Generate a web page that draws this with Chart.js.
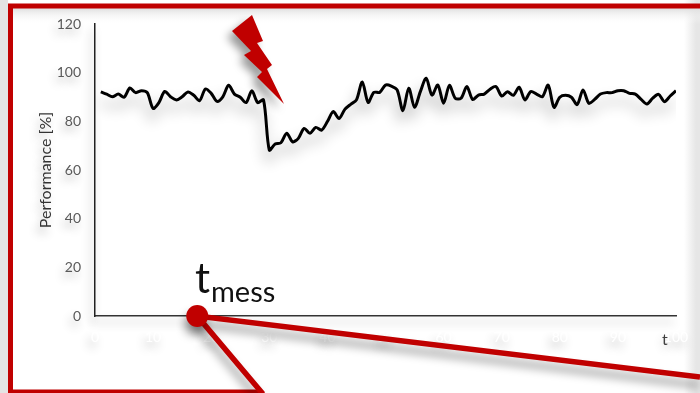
<!DOCTYPE html>
<html>

<head>
    <meta charset="UTF-8">
    <title>Performance</title>
    <script src="https://cdn.jsdelivr.net/npm/chart.js"></script>
    <style>
        html, body { margin: 0; padding: 0; background: #fff; overflow: hidden; }
        #wrap { position: relative; width: 700px; height: 393px; }
    </style>
</head>

<body>
    <div id="wrap"><canvas id="chartCanvas" width="700" height="393"></canvas></div>

    <script>
        var tempo = [1,2,3,4,5,6,7,8,9,10,11,12,13,14,15,16,17,18,19,20,21,22,23,24,25,26,27,28,29,30,
            31,32,33,34,35,36,37,38,39,40,41,42,43,44,45,46,47,48,49,50,51,52,53,54,55,56,57,58,59,60,
            61,62,63,64,65,66,67,68,69,70,71,72,73,74,75,76,77,78,79,80,81,82,83,84,85,86,87,88,89,90,
            91,92,93,94,95,96,97,98,99,100];
        var performance_ = [92.1,91.2,90.1,91.2,89.9,93.7,91.8,92.6,91.8,85.3,87.7,92.3,90.1,88.8,90.1,92.1,90.7,88.5,93.3,91.5,
            88.2,90.1,94.8,91.2,89.9,87.7,92.6,87.7,88.8,68.2,70.7,71.2,75.1,71.6,73,77.1,75.1,77.5,76.4,79.9,
            84,81.2,84.9,87,88.8,96.2,87.8,91.9,91.9,94.9,94.5,92.9,84.4,93.6,85.8,92.2,97.7,90.8,94.9,87.4,
            94.8,89.5,89.5,94.3,89,90.8,91.2,93.2,94.3,90.4,92.2,90.7,94,88.8,92.2,91.2,90.1,94.9,85.8,89.9,
            90.7,89.9,86.9,92.9,87.4,89,91.2,91.8,91.8,92.6,92.6,91.5,91.2,89,87.1,89.5,91.1,88.1,90.4,92.6];
        var tMess = [17.6];
        var tMessValue = [0];

        var vermelho = '#c00000';

        // sombra cinza igual a do slide original
        function sombra(ctx, blur, dx, dy, alpha) {
            ctx.shadowColor = 'rgba(0,0,0,' + alpha + ')';
            ctx.shadowBlur = blur;
            ctx.shadowOffsetX = dx;
            ctx.shadowOffsetY = dy;
        }

        var fundo = {
            id: 'fundo',
            beforeDraw: function (chart) {
                var c = chart.ctx;
                c.save();
                // faixas cinzas fora da moldura
                c.fillStyle = '#e4e4e4';
                c.fillRect(0, 0, 8, 393);
                var d = c.createLinearGradient(684, 0, 696, 0);
                d.addColorStop(0, '#ffffff');
                d.addColorStop(1, '#e6e6e6');
                c.fillStyle = d;
                c.fillRect(684, 0, 16, 393);
                var g = c.createLinearGradient(0, 8, 0, 24);
                g.addColorStop(0, '#dedede');
                g.addColorStop(1, 'rgba(255,255,255,0)');
                c.fillStyle = g;
                c.fillRect(13, 8, 687, 16);
                c.restore();
                // eixos e rotulos tambem tem sombra
                c.save();
                sombra(c, 10, -3, 6, 0.3);
            },
            beforeDatasetsDraw: function (chart) {
                chart.ctx.restore();
            }
        };

        var sombraLinha = {
            id: 'sombraLinha',
            beforeDatasetDraw: function (chart, args) {
                if (args.index === 0) {
                    chart.ctx.save();
                    sombra(chart.ctx, 14, -2, 10, 0.32);
                }
            },
            afterDatasetDraw: function (chart, args) {
                if (args.index === 0) {
                    chart.ctx.restore();
                }
            }
        };

        var extras = {
            id: 'extras',
            afterDraw: function (chart) {
                var c = chart.ctx;
                var px = chart.scales.x.getPixelForValue(tMess[0]);
                var py = chart.scales.y.getPixelForValue(tMessValue[0]);

                c.save();

                // moldura vermelha
                c.strokeStyle = vermelho;
                c.lineWidth = 5;
                c.beginPath();
                c.moveTo(720, 6);
                c.lineTo(10.5, 6);
                c.lineTo(10.5, 392);
                c.lineTo(262, 392);
                c.stroke();

                // raio
                sombra(c, 9, -5, 6, 0.4);
                c.fillStyle = vermelho;
                c.beginPath();
                c.moveTo(252, 15);
                c.lineTo(263, 41);
                c.lineTo(257, 43);
                c.lineTo(272, 65);
                c.lineTo(267, 69);
                c.lineTo(284, 104);
                c.lineTo(257, 77);
                c.lineTo(262, 72);
                c.lineTo(244, 55);
                c.lineTo(251, 51);
                c.lineTo(232, 31);
                c.closePath();
                c.fill();

                // linhas de zoom
                sombra(c, 10, -2, 8, 0.4);
                c.strokeStyle = vermelho;
                c.lineWidth = 5.5;
                c.beginPath();
                c.moveTo(700, 377);
                c.lineTo(px, py);
                c.lineTo(263, 394);
                c.stroke();
                c.fillStyle = vermelho;
                c.beginPath();
                c.arc(px, py, 11, 0, Math.PI * 2);
                c.fill();

                c.shadowColor = 'transparent';
                c.fillStyle = '#111';
                c.textAlign = 'left';
                c.textBaseline = 'alphabetic';
                c.font = '42px Lato';
                c.fillText('t', 195, 293);
                c.font = '29px Lato';
                c.fillText('mess', 211, 302);
                c.fillStyle = '#404040';
                c.font = '16px Lato';
                c.fillText('t', 662, 345);

                c.restore();
            }
        };

        new Chart(document.getElementById('chartCanvas'), {
            type: 'line',
            data: {
                labels: tempo,
                datasets: [{
                    data: tempo.map(function (t, i) { return { x: t, y: performance_[i] }; }),
                    borderColor: '#000',
                    borderWidth: 3,
                    pointRadius: 0,
                    tension: 0.3,
                    fill: false
                }]
            },
            options: {
                responsive: false,
                animation: false,
                layout: { padding: { left: 36, top: 24, right: 24, bottom: 0 } },
                plugins: { legend: { display: false }, tooltip: { enabled: false } },
                scales: {
                    x: {
                        type: 'linear',
                        min: 0,
                        max: 100,
                        afterFit: function (s) { s.height = 77; },
                        grid: { display: false },
                        border: { color: '#333', width: 1.5 },
                        ticks: {
                            color: '#ffffff',
                            maxRotation: 0,
                            stepSize: 10,
                            padding: 5,
                            font: { family: 'Lato', size: 14 }
                        }
                    },
                    y: {
                        min: 0,
                        max: 120,
                        afterFit: function (s) { s.width = 59; },
                        grid: { display: false },
                        border: { color: '#222', width: 1.5 },
                        ticks: {
                            color: '#595959',
                            stepSize: 20,
                            padding: 6,
                            font: { family: 'Lato', size: 14 }
                        },
                        title: {
                            display: true,
                            text: 'Performance [%]',
                            color: '#333',
                            padding: 0,
                            font: { family: 'Lato', size: 16 }
                        }
                    }
                }
            },
            plugins: [fundo, sombraLinha, extras]
        });
    </script>
</body>

</html>
